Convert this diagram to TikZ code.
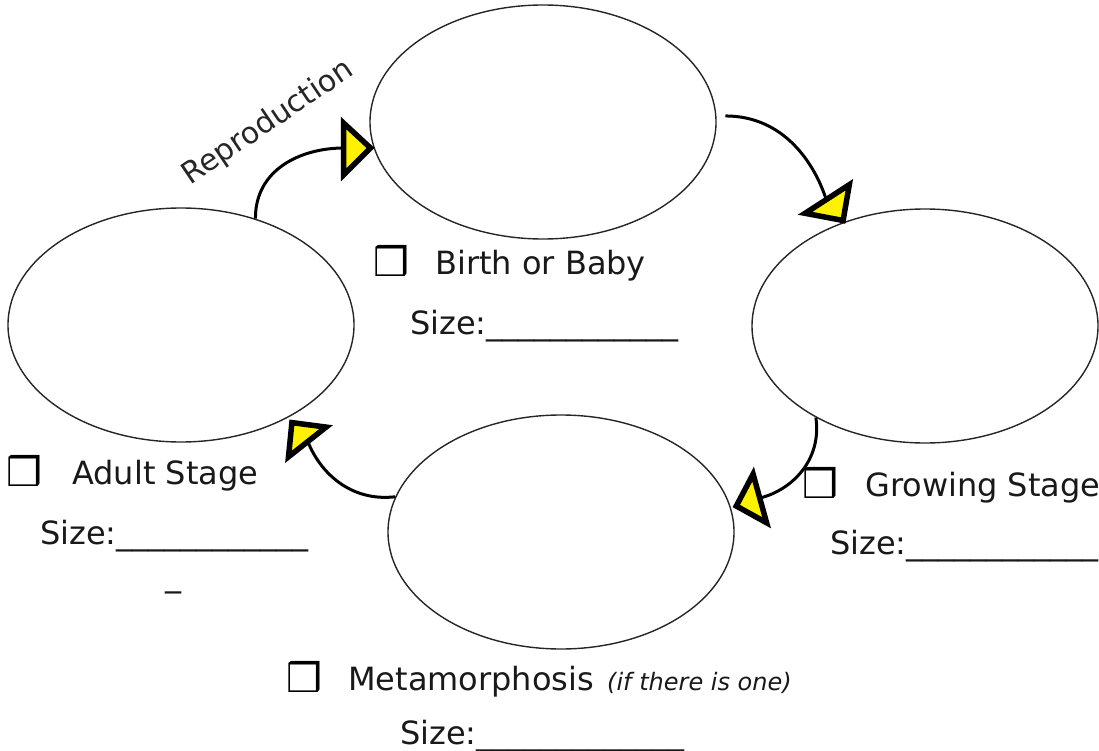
\documentclass[tikz,border=0pt]{standalone}
\usepackage{fontspec}
\setmainfont{DejaVu Sans}
\usetikzlibrary{shapes.geometric}
\begin{document}
\begin{tikzpicture}[x=1pt,y=-1pt,
  stage/.style={ellipse, draw=black!85, line width=1.4pt, minimum width=346pt, minimum height=234pt, inner sep=0pt},
  cyc/.style={line width=3pt, draw=black},
  head/.style={fill=yellow, draw=black, line width=5.5pt, line join=miter, miter limit=10},
  lbl/.style={anchor=base west, inner sep=0pt, text=black!90, font=\fontsize{32}{38}\selectfont},
  box/.style={anchor=base west, inner sep=0pt, text=black, font=\fontsize{40}{46}\selectfont},
  note/.style={anchor=base west, inner sep=0pt, text=black!90, font=\fontsize{24}{28}\selectfont\itshape}]
\useasboundingbox (0,0) rectangle (1099,751);
% stages
\node[stage] (T) at (543,122) {};
\node[stage] (L) at (181,325) {};
\node[stage] (R) at (925,326) {};
\node[stage] (B) at (561,532) {};
% arrow bases
\coordinate (a1) at (344,148);
\coordinate (a2) at (826,199);
\coordinate (a3) at (760,498);
\coordinate (a4) at (308,442);
% cycle connectors
\draw[cyc] (L.55) .. controls (255,170) and (300,148) .. (a1);
\draw[cyc] ([xshift=9pt]T.2) .. controls (785,116) and (815,165) .. (a2);
\draw[cyc] (R.220) .. controls (822,460) and (792,490) .. (a3);
\draw[cyc] (B.168) .. controls (350,502) and (320,472) .. (a4);
% arrowheads
\draw[head] (343.5,123) -- (370.5,148) -- (343.5,175) -- cycle;
\draw[head] (805.1,213.3) -- (849.3,184.7) -- (843.1,220.5) -- cycle;
\draw[head] (753.1,474.1) -- (736.3,506) -- (766.6,522.8) -- cycle;
\draw[head] (291.9,422.6) -- (326.1,427.1) -- (288.5,456.8) -- cycle;
% reproduction
\node[rotate=34, inner sep=0pt, text=black!85, font=\fontsize{30}{36}\selectfont] (rep) at (268,123) {Reproduction};
% birth
\node[box] (cbT) at (373,276) {❒};
\node[lbl] (tT) at (435,274) {Birth or Baby};
\node[lbl] (sT) at (410,334) {Size:\_\_\_\_\_\_\_\_\_\_\_\_};
% adult
\node[box] (cbL) at (6,486) {❒};
\node[lbl] (tL) at (72,484) {Adult Stage};
\node[lbl] (sL) at (40,544) {Size:\_\_\_\_\_\_\_\_\_\_\_\_};
\node[lbl] (uL) at (165,586) {\_};
% growing
\node[box] (cbR) at (802,498) {❒};
\node[lbl] (tR) at (865,496) {Growing Stage};
\node[lbl] (sR) at (830,554) {Size:\_\_\_\_\_\_\_\_\_\_\_\_};
% metamorphosis
\node[box] (cbB) at (286,692) {❒};
\node[lbl] (tB) at (348,690) {Metamorphosis};
\node[note] (nB) at (607,690) {(if there is one)};
\node[lbl] (sB) at (400,744) {Size:\_\_\_\_\_\_\_\_\_\_\_\_\_};
\end{tikzpicture}
\end{document}
